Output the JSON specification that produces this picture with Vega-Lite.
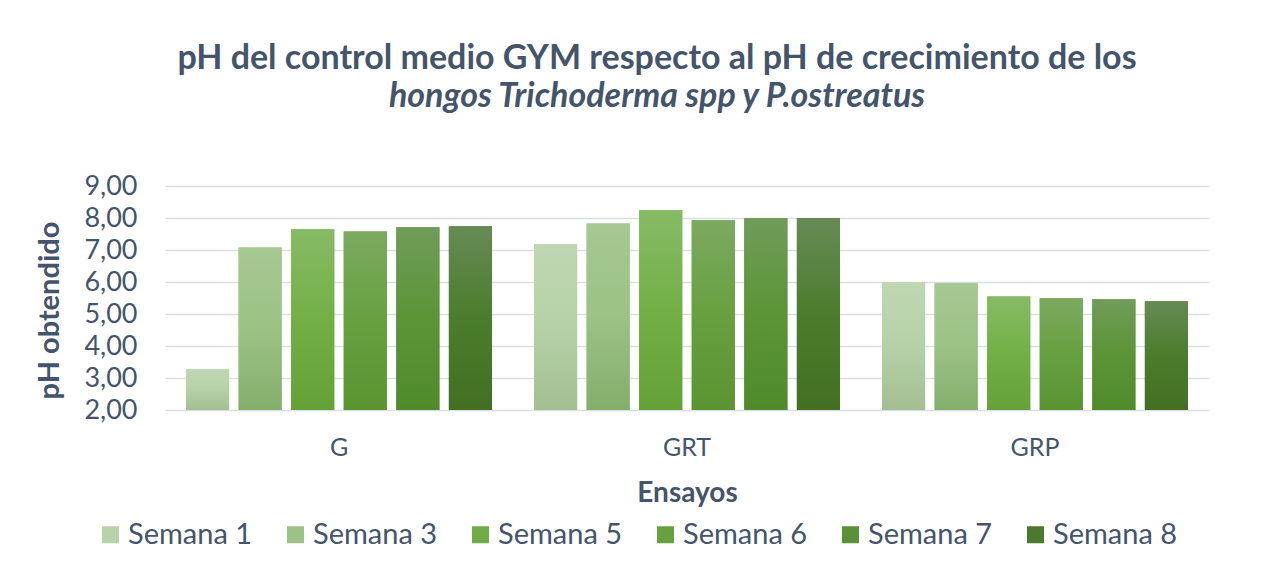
{
  "$schema": "https://vega.github.io/schema/vega-lite/v6.json",
  "autosize": "none",
  "width": 1044,
  "height": 224,
  "padding": {"left": 165, "top": 186, "right": 54, "bottom": 167},
  "background": "white",
  "title": {
    "text": "pH del control medio GYM respecto al pH de crecimiento de los",
    "subtitle": "hongos Trichoderma spp y P.ostreatus",
    "font": "Lato",
    "fontSize": 34,
    "fontWeight": "bold",
    "color": "#44546a",
    "subtitleFont": "Lato",
    "subtitleFontSize": 34,
    "subtitleFontWeight": "bold",
    "subtitleFontStyle": "italic",
    "subtitleColor": "#44546a",
    "subtitlePadding": 4,
    "anchor": "middle",
    "dx": -30,
    "offset": 58
  },
  "data": {
    "values": [
      {"Ensayo": "G", "Semana": "Semana 1", "pH": 3.27},
      {"Ensayo": "G", "Semana": "Semana 3", "pH": 7.08},
      {"Ensayo": "G", "Semana": "Semana 5", "pH": 7.65},
      {"Ensayo": "G", "Semana": "Semana 6", "pH": 7.58},
      {"Ensayo": "G", "Semana": "Semana 7", "pH": 7.71},
      {"Ensayo": "G", "Semana": "Semana 8", "pH": 7.74},
      {"Ensayo": "GRT", "Semana": "Semana 1", "pH": 7.18},
      {"Ensayo": "GRT", "Semana": "Semana 3", "pH": 7.83},
      {"Ensayo": "GRT", "Semana": "Semana 5", "pH": 8.24},
      {"Ensayo": "GRT", "Semana": "Semana 6", "pH": 7.93},
      {"Ensayo": "GRT", "Semana": "Semana 7", "pH": 7.99},
      {"Ensayo": "GRT", "Semana": "Semana 8", "pH": 8.0},
      {"Ensayo": "GRP", "Semana": "Semana 1", "pH": 5.99},
      {"Ensayo": "GRP", "Semana": "Semana 3", "pH": 5.96},
      {"Ensayo": "GRP", "Semana": "Semana 5", "pH": 5.55},
      {"Ensayo": "GRP", "Semana": "Semana 6", "pH": 5.49},
      {"Ensayo": "GRP", "Semana": "Semana 7", "pH": 5.46},
      {"Ensayo": "GRP", "Semana": "Semana 8", "pH": 5.40}
    ]
  },
  "encoding": {
    "x": {
      "field": "Ensayo",
      "type": "nominal",
      "sort": ["G", "GRT", "GRP"],
      "scale": {"paddingInner": 0, "paddingOuter": 0},
      "axis": {
        "title": "Ensayos",
        "titleFont": "Lato",
        "titleFontSize": 28,
        "titleFontWeight": "bold",
        "titleColor": "#44546a",
        "titlePadding": 19,
        "labelFont": "Lato",
        "labelFontSize": 25,
        "labelColor": "#44546a",
        "labelAngle": 0,
        "labelPadding": 25,
        "ticks": false,
        "domain": false,
        "grid": false
      }
    },
    "xOffset": {
      "field": "Semana",
      "type": "nominal",
      "scale": {
        "domain": ["Semana 1", "Semana 3", "Semana 5", "Semana 6", "Semana 7", "Semana 8"],
        "paddingInner": 0.18,
        "paddingOuter": 0.4
      }
    },
    "y": {
      "field": "pH",
      "type": "quantitative",
      "scale": {"domain": [2, 9], "zero": false, "nice": false},
      "axis": {
        "title": "pH obtendido",
        "titleFont": "Lato",
        "titleFontSize": 29,
        "titleFontWeight": "bold",
        "titleColor": "#44546a",
        "titleAngle": -90,
        "titleAlign": "center",
        "titleBaseline": "middle",
        "titleX": -116,
        "titleY": 124,
        "values": [2, 3, 4, 5, 6, 7, 8, 9],
        "labelExpr": "replace(format(datum.value, '.2f'), '.', ',')",
        "labelFont": "Lato",
        "labelFontSize": 27,
        "labelColor": "#44546a",
        "labelPadding": 28,
        "ticks": false,
        "domain": false,
        "grid": true,
        "gridColor": "#d9dee6",
        "gridWidth": 1.6
      }
    },
    "y2": {"datum": 2}
  },
  "layer": [
    {
      "mark": {"type": "bar"},
      "encoding": {
        "fill": {
          "field": "Semana",
          "type": "nominal",
          "scale": {
            "domain": ["Semana 1", "Semana 3", "Semana 5", "Semana 6", "Semana 7", "Semana 8"],
            "range": ["#b8d2aa", "#9dc287", "#70ad47", "#67a03f", "#5a9136", "#4a7a2c"]
          },
          "legend": {
            "title": null,
            "orient": "none",
            "legendX": -69,
            "legendY": 334,
            "direction": "horizontal",
            "columns": 6,
            "columnPadding": 28,
            "symbolType": "square",
            "symbolSize": 289,
            "symbolStrokeWidth": 0,
            "symbolOpacity": 1,
            "labelFont": "Lato",
            "labelFontSize": 29,
            "labelColor": "#44546a",
            "labelOffset": 3,
            "labelLimit": 300
          }
        }
      }
    },
    {
      "transform": [{"filter": "datum.Semana === 'Semana 1'"}],
      "mark": {"type": "bar", "fill": {"gradient": "linear", "x1": 0, "y1": 0, "x2": 0, "y2": 1, "stops": [{"offset": 0, "color": "#bfd7b2"}, {"offset": 0.5, "color": "#b6d1a7"}, {"offset": 1, "color": "#a2be92"}]}}
    },
    {
      "transform": [{"filter": "datum.Semana === 'Semana 3'"}],
      "mark": {"type": "bar", "fill": {"gradient": "linear", "x1": 0, "y1": 0, "x2": 0, "y2": 1, "stops": [{"offset": 0, "color": "#a6c893"}, {"offset": 0.5, "color": "#9cc285"}, {"offset": 1, "color": "#84ae6c"}]}}
    },
    {
      "transform": [{"filter": "datum.Semana === 'Semana 5'"}],
      "mark": {"type": "bar", "fill": {"gradient": "linear", "x1": 0, "y1": 0, "x2": 0, "y2": 1, "stops": [{"offset": 0, "color": "#87bb66"}, {"offset": 0.5, "color": "#72b046"}, {"offset": 1, "color": "#64a238"}]}}
    },
    {
      "transform": [{"filter": "datum.Semana === 'Semana 6'"}],
      "mark": {"type": "bar", "fill": {"gradient": "linear", "x1": 0, "y1": 0, "x2": 0, "y2": 1, "stops": [{"offset": 0, "color": "#7baa60"}, {"offset": 0.5, "color": "#67a03f"}, {"offset": 1, "color": "#5a9532"}]}}
    },
    {
      "transform": [{"filter": "datum.Semana === 'Semana 7'"}],
      "mark": {"type": "bar", "fill": {"gradient": "linear", "x1": 0, "y1": 0, "x2": 0, "y2": 1, "stops": [{"offset": 0, "color": "#709c59"}, {"offset": 0.5, "color": "#5b9536"}, {"offset": 1, "color": "#4f8a2b"}]}}
    },
    {
      "transform": [{"filter": "datum.Semana === 'Semana 8'"}],
      "mark": {"type": "bar", "fill": {"gradient": "linear", "x1": 0, "y1": 0, "x2": 0, "y2": 1, "stops": [{"offset": 0, "color": "#678a56"}, {"offset": 0.5, "color": "#4b7d2c"}, {"offset": 1, "color": "#436f22"}]}}
    }
  ],
  "config": {
    "view": {"stroke": null}
  }
}
